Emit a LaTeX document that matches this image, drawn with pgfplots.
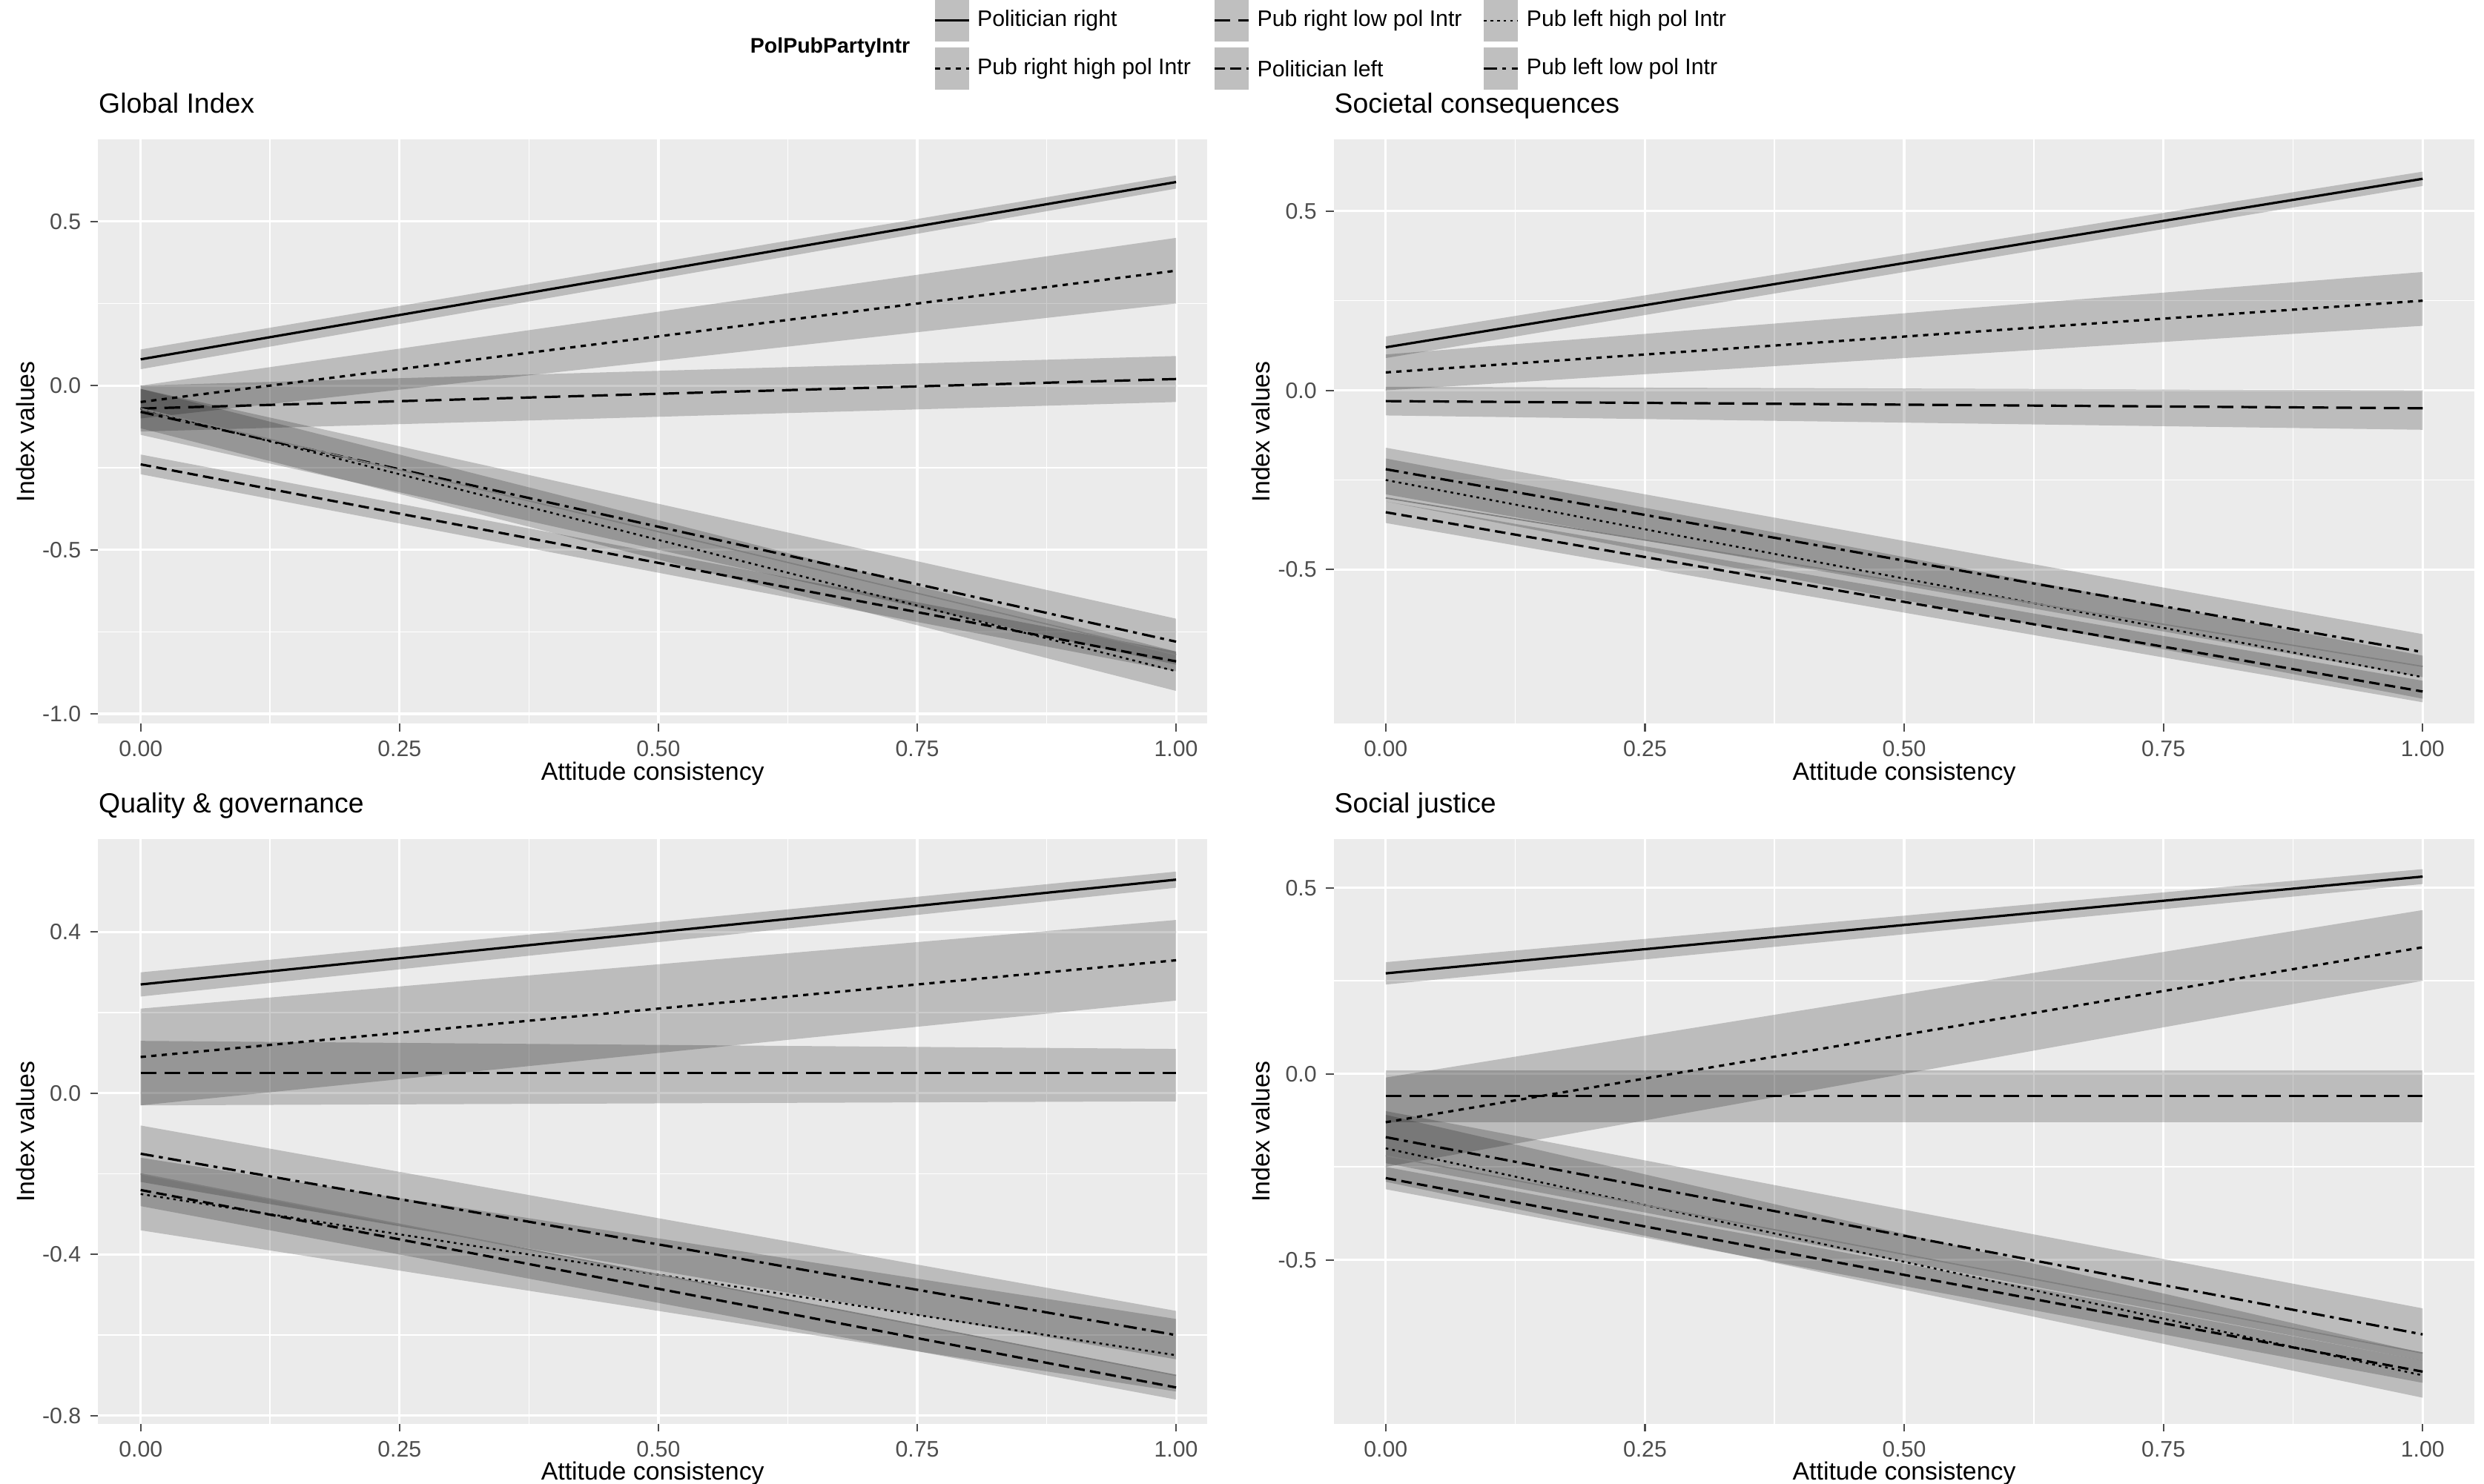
\documentclass[border=0pt]{standalone}
\usepackage{pgfplots}
\pgfplotsset{compat=1.18}
\usepackage{fontspec}
\setmainfont{Liberation Sans}
\definecolor{panelbg}{HTML}{EBEBEB}
\definecolor{tickc}{HTML}{4D4D4D}
\tikzset{
 s1/.style={black,line width=0.9pt},
 s2/.style={black,line width=0.9pt,dash pattern=on 2pt off 2pt},
 s3/.style={black,line width=0.9pt,dash pattern=on 6pt off 3pt},
 s4/.style={black,line width=0.9pt,dash pattern=on 4pt off 2pt},
 s5/.style={black,line width=0.7pt,dash pattern=on 1pt off 1.5pt},
 s6/.style={black,line width=0.9pt,dash pattern=on 5pt off 2pt on 1.5pt off 2pt},
}
\newcommand\band[4]{\addplot[draw=none,fill=black,fill opacity=0.2,forget plot] coordinates {(0,#1) (1,#3) (1,#4) (0,#2)} -- cycle;}
\newcommand\lin[3]{\addplot[#1,forget plot] coordinates {(0,#2) (1,#3)};}
\pgfplotsset{
 panel/.style={
  scale only axis, height=221.4pt, xmin=-0.05, xmax=1.05,
  axis background/.style={fill=panelbg}, axis line style={draw=none},
  xtick={0,0.25,0.5,0.75,1}, minor x tick num=1,
  grid=both, major grid style={white,line width=0.9pt}, minor grid style={white,line width=0.45pt},
  tick style={tickc,line width=0.6pt}, major tick length=3pt, minor tick length=0pt,
  tick align=outside, xtick pos=bottom, ytick pos=left,
  ticklabel style={font=\fontsize{8.5}{10}\selectfont, text=tickc},
  /pgf/number format/assume math mode=true,
  xticklabel style={/pgf/number format/.cd,fixed,fixed zerofill,precision=2},
  yticklabel style={/pgf/number format/.cd,fixed,fixed zerofill,precision=1},
  xlabel={Attitude consistency}, ylabel={Index values},
  label style={font=\fontsize{9.5}{11}\selectfont},
  xlabel style={yshift=5pt}, ylabel style={yshift=-4pt},
  title style={at={(0,1)},anchor=base west,font=\fontsize{10.5}{12}\selectfont,inner xsep=0pt,inner ysep=0pt,yshift=4pt},
 }
}
\begin{document}
\begin{tikzpicture}
\useasboundingbox (0,0) rectangle (940.8pt,-562.2pt);
% legend
\node[font=\fontsize{8}{10}\selectfont\bfseries,anchor=west,inner xsep=0pt] at (284pt,-18pt) {PolPubPartyIntr};
\foreach \st/\lab/\x/\y in {s1/Politician right/354/-7.8, s3/Pub right low pol Intr/460/-7.8, s5/Pub left high pol Intr/562/-7.8,
  s2/Pub right high pol Intr/354/-26, s4/Politician left/460/-26, s6/Pub left low pol Intr/562/-26}{
 \fill[black!25] (\x pt,\y pt-8pt) rectangle (\x pt+13pt,\y pt+8pt);
 \draw[\st] (\x pt,\y pt) -- (\x pt+13pt,\y pt);
 \node[font=\fontsize{8.5}{10}\selectfont,anchor=west,inner xsep=2pt] at (\x pt+14pt,\y pt) {\lab};
}
% P1
\begin{axis}[panel, at={(37.2pt,-52.8pt)}, anchor=north west, width=420pt, xmin=-0.041, xmax=1.03,
 ymin=-1.03, ymax=0.75, ytick={-1,-0.5,0,0.5}, minor y tick num=1, title={Global Index}]
\band{0.05}{0.11}{0.60}{0.64}
\band{-0.10}{0.00}{0.25}{0.45}
\band{-0.14}{0.00}{-0.05}{0.09}
\band{-0.27}{-0.21}{-0.87}{-0.81}
\band{-0.13}{-0.01}{-0.93}{-0.81}
\band{-0.15}{-0.01}{-0.85}{-0.71}
\lin{s1}{0.08}{0.62}
\lin{s2}{-0.05}{0.35}
\lin{s3}{-0.07}{0.02}
\lin{s4}{-0.24}{-0.84}
\lin{s5}{-0.07}{-0.87}
\lin{s6}{-0.08}{-0.78}
\lin{gray,line width=0.5pt}{-0.07}{-0.82}
\end{axis}
% P2
\begin{axis}[panel, at={(505.2pt,-52.8pt)}, anchor=north west, width=432pt,
 ymin=-0.93, ymax=0.70, ytick={-0.5,0,0.5}, minor y tick num=1, title={Societal consequences}]
\band{0.09}{0.15}{0.57}{0.61}
\band{0.00}{0.10}{0.18}{0.33}
\band{-0.07}{0.01}{-0.11}{0.00}
\band{-0.37}{-0.31}{-0.87}{-0.81}
\band{-0.31}{-0.19}{-0.86}{-0.74}
\band{-0.29}{-0.16}{-0.80}{-0.68}
\lin{s1}{0.12}{0.59}
\lin{s2}{0.05}{0.25}
\lin{s3}{-0.03}{-0.05}
\lin{s4}{-0.34}{-0.84}
\lin{s5}{-0.25}{-0.80}
\lin{s6}{-0.22}{-0.73}
\lin{gray,line width=0.5pt}{-0.30}{-0.77}
\end{axis}
% P3
\begin{axis}[panel, at={(37.2pt,-318pt)}, anchor=north west, width=420pt, xmin=-0.041, xmax=1.03,
 ymin=-0.82, ymax=0.63, ytick={-0.8,-0.4,0,0.4}, minor y tick num=1, title={Quality \& governance}]
\band{0.24}{0.30}{0.51}{0.55}
\band{-0.03}{0.21}{0.23}{0.43}
\band{-0.03}{0.13}{-0.02}{0.11}
\band{-0.28}{-0.20}{-0.76}{-0.70}
\band{-0.34}{-0.16}{-0.74}{-0.56}
\band{-0.22}{-0.08}{-0.66}{-0.54}
\lin{s1}{0.27}{0.53}
\lin{s2}{0.09}{0.33}
\lin{s3}{0.05}{0.05}
\lin{s4}{-0.24}{-0.73}
\lin{s5}{-0.25}{-0.65}
\lin{s6}{-0.15}{-0.60}
\lin{gray,line width=0.5pt}{-0.20}{-0.70}
\end{axis}
% P4
\begin{axis}[panel, at={(505.2pt,-318pt)}, anchor=north west, width=432pt,
 ymin=-0.94, ymax=0.63, ytick={-0.5,0,0.5}, minor y tick num=1, title={Social justice}]
\band{0.24}{0.30}{0.51}{0.55}
\band{-0.25}{-0.01}{0.25}{0.44}
\band{-0.13}{0.01}{-0.13}{0.01}
\band{-0.31}{-0.25}{-0.83}{-0.77}
\band{-0.29}{-0.11}{-0.87}{-0.75}
\band{-0.24}{-0.10}{-0.77}{-0.63}
\lin{s1}{0.27}{0.53}
\lin{s2}{-0.13}{0.34}
\lin{s3}{-0.06}{-0.06}
\lin{s4}{-0.28}{-0.80}
\lin{s5}{-0.20}{-0.81}
\lin{s6}{-0.17}{-0.70}
\lin{gray,line width=0.5pt}{-0.22}{-0.75}
\end{axis}
\end{tikzpicture}
\end{document}
